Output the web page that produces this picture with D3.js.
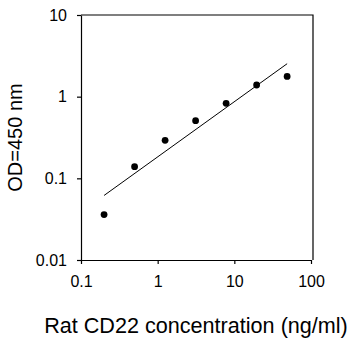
<!DOCTYPE html>
<html>
<head>
<meta charset="utf-8">
<script src="https://cdn.jsdelivr.net/npm/d3@7"></script>
<style>
  body { margin: 0; background: #fff; }
  svg { display: block; font-family: "Liberation Sans", Arial, sans-serif; }
  .axis path, .axis line { stroke: #000; stroke-width: 1.2; }
  .axis text { font-size: 16px; fill: #000; }
</style>
</head>
<body>
<div id="chart"></div>
<script>
// standard curve: concentration (ng/ml) vs OD at 450 nm
var concentration = [0.2, 0.5, 1.25, 3.125, 7.8125, 19.53, 48.83];
var od450 = [0.036, 0.139, 0.292, 0.508, 0.828, 1.39, 1.77];
var xTicks = [0.1, 1, 10, 100];
var yTicks = [0.01, 0.1, 1, 10];

var width = 352, height = 340;
var svg = d3.select('#chart').append('svg')
  .attr('width', width)
  .attr('height', height);

var x = d3.scaleLog().domain([0.1, 100]).range([81, 311]);
var y = d3.scaleLog().domain([0.01, 10]).range([260, 15]);

var fmt = function(d) { return String(d); };

svg.append('g')
  .attr('class', 'axis')
  .attr('transform', 'translate(0,260)')
  .call(d3.axisBottom(x).tickValues(xTicks).tickFormat(fmt)
    .tickSize(4).tickSizeOuter(0).tickPadding(12));

svg.append('g')
  .attr('class', 'axis')
  .attr('transform', 'translate(81,0)')
  .call(d3.axisLeft(y).tickValues(yTicks).tickFormat(fmt)
    .tickSize(4).tickSizeOuter(0).tickPadding(10));

// frame top + right
svg.append('path')
  .attr('d', 'M' + x(0.1) + ',' + y(10) + 'H313V' + y(0.01))
  .attr('fill', 'none')
  .attr('stroke', '#000')
  .attr('stroke-width', 1.2);

// power fit (linear regression in log-log)
var lx = concentration.map(Math.log10), ly = od450.map(Math.log10);
var mx = d3.mean(lx), my = d3.mean(ly);
var slope = d3.sum(lx, function(d, i) { return (d - mx) * (ly[i] - my); }) /
            d3.sum(lx, function(d) { return (d - mx) * (d - mx); });
var icpt = my - slope * mx;
var fit = function(c) { return Math.pow(10, icpt + slope * Math.log10(c)); };
var ends = d3.extent(concentration);

svg.append('line')
  .attr('x1', x(ends[0])).attr('y1', y(fit(ends[0])))
  .attr('x2', x(ends[1])).attr('y2', y(fit(ends[1])))
  .attr('stroke', '#000')
  .attr('stroke-width', 1);

svg.append('g').selectAll('circle')
  .data(concentration)
  .enter().append('circle')
  .attr('cx', function(d) { return x(d); })
  .attr('cy', function(d, i) { return y(od450[i]); })
  .attr('r', 3.4)
  .attr('fill', '#000');

svg.append('text')
  .attr('x', 196)
  .attr('y', 332.5)
  .attr('text-anchor', 'middle')
  .style('font-size', '21.6px')
  .text('Rat CD22 concentration (ng/ml)');

svg.append('text')
  .attr('transform', 'translate(21.5,137.5) rotate(-90)')
  .attr('text-anchor', 'middle')
  .style('font-size', '20px')
  .text('OD=450 nm');
</script>
</body>
</html>
